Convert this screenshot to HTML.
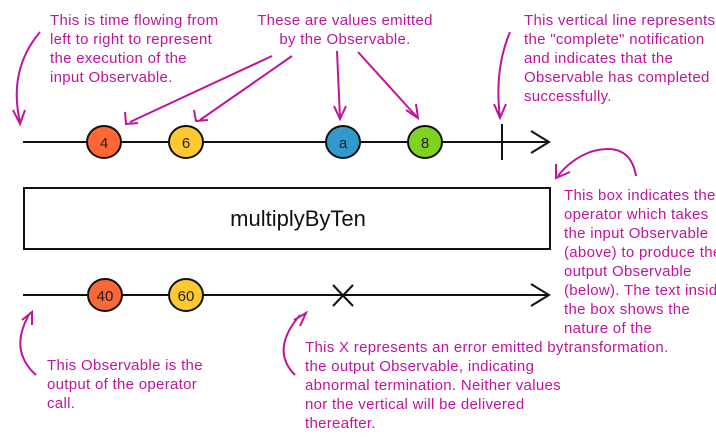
<!DOCTYPE html>
<html><head><meta charset="utf-8"><style>
html,body{margin:0;padding:0;background:#fff;width:716px;height:442px;overflow:hidden}
svg{display:block}
.t{font-family:"Liberation Sans",sans-serif;font-size:15px;letter-spacing:0.3px;fill:#c0149e}
.n{font-family:"Liberation Sans",sans-serif;font-size:15px;fill:#222;text-anchor:middle}
</style></head><body>
<svg width="716" height="442" viewBox="0 0 716 442" xmlns="http://www.w3.org/2000/svg">
<g stroke="#111" stroke-width="2" fill="none">
<line x1="23" y1="142" x2="548" y2="142"/>
<polyline points="531,131 549,142 531,153"/>
<line x1="502" y1="124" x2="502" y2="160"/>
<line x1="23" y1="295" x2="548" y2="295"/>
<polyline points="531,284 549,295 531,306"/>
<line x1="333" y1="285" x2="353" y2="306"/>
<line x1="353" y1="285" x2="333" y2="306"/>
<rect x="24" y="188" width="526" height="61"/>
</g>
<g stroke="#111" stroke-width="2">
<ellipse cx="104" cy="142" rx="17" ry="16" fill="#fd6637"/>
<ellipse cx="186" cy="142" rx="17" ry="16" fill="#fdc830"/>
<ellipse cx="343" cy="142" rx="17" ry="16" fill="#3399cc"/>
<ellipse cx="425" cy="142" rx="17" ry="16" fill="#7ed321"/>
<ellipse cx="105" cy="295" rx="17" ry="16" fill="#fd6637"/>
<ellipse cx="186" cy="295" rx="17" ry="16" fill="#fdc830"/>
</g>
<text class="n" x="104" y="148">4</text>
<text class="n" x="186" y="148">6</text>
<text class="n" x="343" y="148">a</text>
<text class="n" x="425" y="148">8</text>
<text class="n" x="105" y="301" style="font-size:15px">40</text>
<text class="n" x="186" y="301" style="font-size:15px">60</text>
<text x="298" y="226" style="font-family:'Liberation Sans',sans-serif;font-size:22px;fill:#111;text-anchor:middle">multiplyByTen</text>
<g stroke="#c0149e" stroke-width="2" fill="none">
<path d="M40 32 Q8 70 20 122"/><polyline points="13,110 20,124 25,110"/>
<path d="M272 56 L130 122"/><polyline points="125,112 126,124 138,123"/>
<path d="M292 56 L200 120"/><polyline points="194,110 196,121 208,120"/>
<path d="M337 51 L340 118"/><polyline points="334,106 340,119 346,106"/>
<path d="M358 52 L416 116"/><polyline points="406,110 418,118 416,104"/>
<path d="M510 32 Q494 70 500 118"/><polyline points="494,104 500,118 506,104"/>
<path d="M636 176 Q630 140 590 152 Q570 160 558 176"/><polyline points="556,164 556,178 570,172"/>
<path d="M36 375 Q8 350 30 313"/><polyline points="22,320 32,312 32,325"/>
<path d="M295 375 Q270 350 300 315"/><polyline points="294,320 306,313 300,326"/>
</g>
<g class="t">
<text x="50" y="25">This is time flowing from</text>
<text x="50" y="44">left to right to represent</text>
<text x="50" y="63">the execution of the</text>
<text x="50" y="82">input Observable.</text>
<text x="345" y="25" text-anchor="middle">These are values emitted</text>
<text x="345" y="44" text-anchor="middle">by the Observable.</text>
<text x="524" y="25">This vertical line represents</text>
<text x="524" y="44">the "complete" notification</text>
<text x="524" y="63">and indicates that the</text>
<text x="524" y="82">Observable has completed</text>
<text x="524" y="101">successfully.</text>
<text x="564" y="200">This box indicates the</text>
<text x="564" y="219">operator which takes</text>
<text x="564" y="238">the input Observable</text>
<text x="564" y="257">(above) to produce the</text>
<text x="564" y="276">output Observable</text>
<text x="564" y="295">(below). The text inside</text>
<text x="564" y="314">the box shows the</text>
<text x="564" y="333">nature of the</text>
<text x="564" y="352">transformation.</text>
<text x="47" y="370">This Observable is the</text>
<text x="47" y="389">output of the operator</text>
<text x="47" y="408">call.</text>
<text x="305" y="352">This X represents an error emitted by</text>
<text x="305" y="371">the output Observable, indicating</text>
<text x="305" y="390">abnormal termination. Neither values</text>
<text x="305" y="409">nor the vertical will be delivered</text>
<text x="305" y="428">thereafter.</text>
</g>
</svg>
</body></html>
